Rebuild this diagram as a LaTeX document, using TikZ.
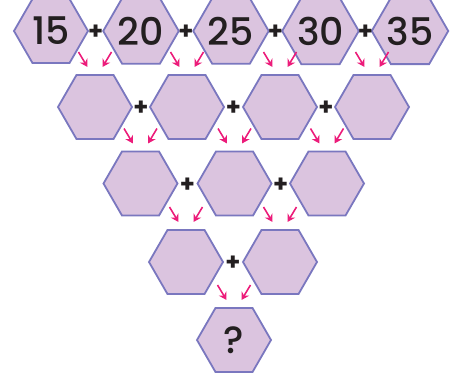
\documentclass[tikz,border=0pt]{standalone}
\usepackage{fontspec}
\setmainfont{Poppins}[UprightFont={* Medium},BoldFont={* Bold}]
\usetikzlibrary{shapes.geometric,arrows.meta,calc}
\definecolor{hexfill}{HTML}{DBC4DF}
\definecolor{hexline}{HTML}{7A77BF}
\definecolor{arrpink}{HTML}{EC1C7A}
\definecolor{txt}{HTML}{231F20}
\tikzset{
  hexbox/.style={regular polygon, regular polygon sides=6, minimum size=74pt, inner sep=0pt,
    fill=hexfill, draw=hexline, line width=1.8pt, text=txt,
    font=\fontsize{38}{38}\selectfont},
  plussign/.style={inner sep=0pt, text=txt, font=\fontsize{24}{24}\selectfont\bfseries},
  pinkarrow/.style={draw=arrpink, line width=1.6pt, -{Stealth[length=7.5pt,width=8.5pt]}}
}
\begin{document}
\begin{tikzpicture}[x=1pt,y=-1pt]
\useasboundingbox (0,0) rectangle (455,380);
% row 1
\node[hexbox] (a1) at (51,31) {15};
\node[hexbox] (a2) at (141,31) {20};
\node[hexbox] (a3) at (231,31) {25};
\node[hexbox] (a4) at (320.5,31) {30};
\node[hexbox] (a5) at (410,31) {35};
% row 2
\node[hexbox] (b1) at (95,107) {};
\node[hexbox] (b2) at (187,107) {};
\node[hexbox] (b3) at (280,107) {};
\node[hexbox] (b4) at (372,107) {};
% row 3
\node[hexbox] (c1) at (140.5,183.5) {};
\node[hexbox] (c2) at (234.5,183.5) {};
\node[hexbox] (c3) at (327,183.5) {};
% row 4
\node[hexbox] (d1) at (186,262) {};
\node[hexbox] (d2) at (280,262) {};
% row 5
\node[hexbox] (e1) at (234,340) {?};
% plus signs
\foreach \p/\q in {a1/a2,a2/a3,a3/a4,a4/a5,b1/b2,b2/b3,b3/b4,c1/c2,c2/c3,d1/d2}{
  \node[plussign] (plus-\p) at ($(\p.east)!0.5!(\q.west)+(0,1.5)$) {+};
}
% arrows
\foreach \c in {b1,b2,b3,b4,c1,c2,c3,d1,d2,e1}{
  \coordinate (\c-ls) at ($(\c.center)+(-16.5,-55)$);
  \coordinate (\c-le) at ($(\c.center)+(-7.5,-40)$);
  \coordinate (\c-rs) at ($(\c.center)+(16.5,-55)$);
  \coordinate (\c-re) at ($(\c.center)+(7.5,-40)$);
  \draw[pinkarrow] (\c-ls) -- (\c-le);
  \draw[pinkarrow] (\c-rs) -- (\c-re);
}
\end{tikzpicture}
\end{document}
